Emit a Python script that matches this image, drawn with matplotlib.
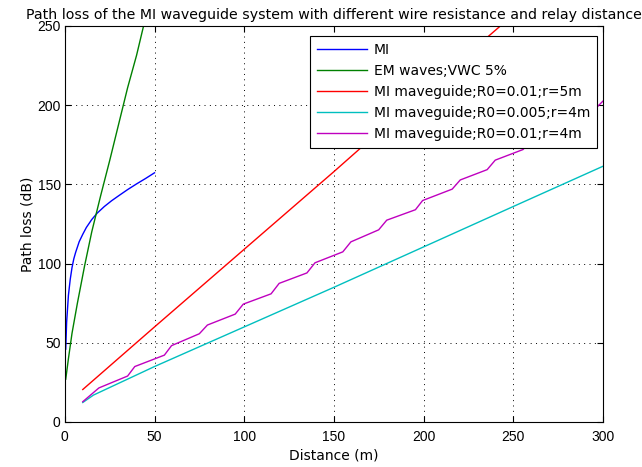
import numpy as np
import matplotlib
matplotlib.use("Agg")
import matplotlib.pyplot as plt

plt.rcParams['font.family'] = ['DejaVu Sans']
plt.rcParams['font.size'] = 10

# MI (direct)
mi_d = [0.5, 1, 2, 3, 4, 5, 6, 8, 10, 12, 15, 18, 22, 26, 30, 35, 40, 45, 50]
mi_loss = [46, 63, 80, 90, 97.5, 103, 107, 113.8, 118.5, 122.8, 127.8, 131.8,
           136, 139.6, 142.8, 146.7, 150.3, 153.7, 157.3]

# EM waves, VWC 5%
em_d = [0.5, 2, 4, 7, 11, 15, 20, 25, 30, 35, 40, 44]
em_loss = [27, 40, 56, 75, 98.5, 120, 143, 165, 188, 211, 231.5, 250.5]

# MI waveguide R0=0.01, r=5m
wg1_d = [10, 50, 100, 150, 200, 250, 300]
wg1_loss = [20.5, 60, 109, 158, 208, 257, 306]

# MI waveguide R0=0.005, r=4m
wg2_d = [10, 16, 50, 100, 150, 200, 250, 300]
wg2_loss = [12.3, 17, 35, 60, 85, 110.5, 136, 161.4]

# MI waveguide R0=0.01, r=4m
wg3_d = [10, 19, 35, 39, 55.5, 59.5, 75, 79.5, 95, 99.5, 115, 119.5, 135, 139.5,
         155, 159.5, 175, 179.5, 195.5, 199.5, 216, 220.5, 235.5, 240, 255.5,
         260, 275.5, 280, 295.5, 300]
wg3_loss = [12.8, 21.5, 29, 35, 42.2, 48.2, 55.7, 61.2, 68.1, 74.4, 80.9, 87.5,
            94.1, 100.5, 107.4, 113.7, 121.3, 127.4, 134, 139.8, 147, 152.8,
            159.3, 165.3, 172, 178, 184.7, 190.7, 197.4, 202.5]

fig = plt.figure(figsize=(6.42, 4.67), dpi=100)
ax = fig.add_axes([0.101, 0.0964, 0.838, 0.848])

ax.plot(mi_d, mi_loss, color=(0, 0, 1), lw=1, label='MI')
ax.plot(em_d, em_loss, color=(0, 0.5, 0), lw=1, label='EM waves;VWC 5%')
ax.plot(wg1_d, wg1_loss, color=(1, 0, 0), lw=1, label='MI maveguide;R0=0.01;r=5m')
ax.plot(wg2_d, wg2_loss, color=(0, 0.75, 0.75), lw=1, label='MI maveguide;R0=0.005;r=4m')
ax.plot(wg3_d, wg3_loss, color=(0.75, 0, 0.75), lw=1, label='MI maveguide;R0=0.01;r=4m')

ax.set_xlim(0, 300)
ax.set_ylim(0, 250)
ax.set_xticks(np.arange(0, 301, 50))
ax.set_yticks(np.arange(0, 251, 50))
ax.grid(True, color='black', linestyle=(0, (1, 4.5)), lw=0.7)
ax.tick_params(direction='in', top=True, right=True, length=4, labelsize=10)
ax.tick_params(axis='x', pad=6)
ax.tick_params(axis='y', pad=3)
for lab in ax.get_xticklabels() + ax.get_yticklabels():
    lab.set_fontfamily('Liberation Sans')
for s in ax.spines.values():
    s.set_linewidth(0.8)

ax.set_xlabel('Distance (m)', fontsize=10, labelpad=3)
ax.set_ylabel('Path loss (dB)', fontsize=10)
ax.yaxis.set_label_coords(-0.056, 0.5)
ax.set_title('Path loss of the MI waveguide system with different wire resistance and relay distance',
             fontsize=10.2, pad=5)

leg = ax.legend(loc='upper right', fontsize=10, fancybox=False, edgecolor='black',
                framealpha=1, handlelength=3.6, handletextpad=0.5, borderpad=0.5,
                labelspacing=0.5, borderaxespad=0, bbox_to_anchor=(0.989, 0.975))
leg.get_frame().set_linewidth(0.8)

fig.savefig('out.png', dpi=100)
